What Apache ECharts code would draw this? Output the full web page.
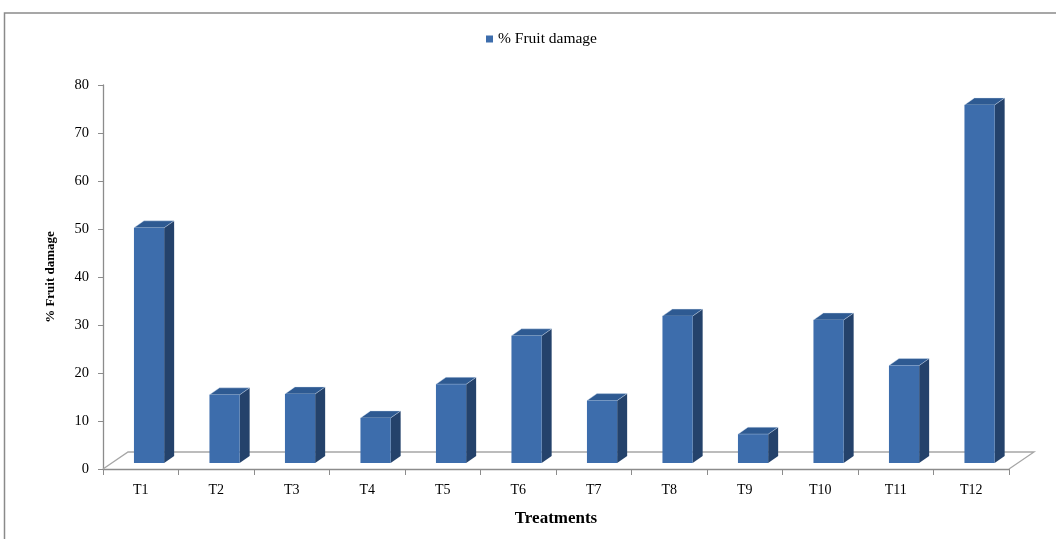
<!DOCTYPE html>
<html>
<head>
<meta charset="utf-8">
<script src="https://cdn.jsdelivr.net/npm/echarts@6/dist/echarts.min.js"></script>
<style>html,body{margin:0;padding:0;background:#fff}#c{width:1056px;height:539px}</style>
</head>
<body>
<div id="c"></div>
<script>
const categories = ['T1','T2','T3','T4','T5','T6','T7','T8','T9','T10','T11','T12'];
const fruitDamage = [49.0, 14.2, 14.4, 9.4, 16.4, 26.5, 13.0, 30.6, 6.0, 29.8, 20.3, 74.6];
const seriesName = '% Fruit damage';
const yMin = 0, yMax = 80, yInterval = 10;

const FRONT = '#3D6DAC', SIDE = '#24426B', TOP = '#2E5A92';
const chart = echarts.init(document.getElementById('c'));
const serif = 'Liberation Serif';

function renderFloor(params, api) {
  const cs = params.coordSys;
  const dx = 25, dy = -17;
  const x0 = cs.x, x1 = cs.x + cs.width, y0 = cs.y + cs.height;
  return {
    type: 'polyline',
    shape: { points: [[x0, y0], [x0 + dx, y0 + dy], [x1 + dx, y0 + dy], [x1, y0]] },
    style: { stroke: '#a6a6a6', lineWidth: 1.3, fill: null },
    silent: true
  };
}

function renderBar(params, api) {
  const i = api.value(0);
  const c0 = api.coord([i, 0]);
  const c1 = api.coord([i, api.value(1)]);
  const bw = api.size([1, 0])[0];
  const xl = c0[0] - bw / 2 + bw * 0.41;
  const xr = xl + bw * 0.40;
  const base = c0[1] - 6;
  const top = c1[1] - 6;
  const dx = 10, dy = -7;
  return {
    type: 'group',
    children: [
      { type: 'polygon', shape: { points: [[xr, top], [xr + dx, top + dy], [xr + dx, base + dy], [xr, base]] },
        style: { fill: SIDE } },
      { type: 'polygon', shape: { points: [[xl, top], [xl + dx, top + dy], [xr + dx, top + dy], [xr, top]] },
        style: { fill: TOP, stroke: 'rgba(220,230,245,0.7)', lineWidth: 0.6 } },
      { type: 'rect', shape: { x: xl, y: top, width: xr - xl, height: base - top },
        style: { fill: FRONT } }
    ]
  };
}

chart.setOption({
  animation: false,
  backgroundColor: '#fff',
  graphic: [{
    type: 'rect', shape: { x: 4.5, y: 13, width: 1100, height: 600 },
    style: { fill: null, stroke: '#8a8a8a', lineWidth: 1.5 }, silent: true, z: 0
  }],
  legend: {
    data: [seriesName], left: 481, top: 26,
    icon: 'rect', itemWidth: 7, itemHeight: 7, itemGap: 4,
    textStyle: { fontFamily: serif, fontSize: 15.5, color: '#000' }
  },
  grid: { left: 103, right: 47, top: 85, bottom: 70 },
  xAxis: {
    type: 'category', data: categories,
    name: 'Treatments', nameLocation: 'middle', nameGap: 41,
    nameTextStyle: { fontFamily: serif, fontSize: 17, fontWeight: 'bold', color: '#000' },
    axisLine: { lineStyle: { color: '#8c8c8c', width: 1.3 } },
    axisTick: { show: true, length: 6, lineStyle: { color: '#8c8c8c' } },
    axisLabel: { interval: 0, margin: 14, fontFamily: serif, fontSize: 14, color: '#000' },
    splitLine: { show: false }
  },
  yAxis: {
    type: 'value', min: yMin, max: yMax, interval: yInterval,
    name: '% Fruit damage', nameLocation: 'middle', nameGap: 46,
    nameTextStyle: { fontFamily: serif, fontSize: 13, fontWeight: 'bold', color: '#000' },
    axisLine: { show: true, lineStyle: { color: '#8c8c8c', width: 1.3 } },
    axisTick: { show: true, length: 5, lineStyle: { color: '#8c8c8c' } },
    axisLabel: { margin: 14, fontFamily: serif, fontSize: 14.5, color: '#000' },
    splitLine: { show: false }
  },
  series: [
    { type: 'custom', name: 'floor', renderItem: renderFloor, data: [[0, 0]], z: 1, silent: true },
    {
      type: 'custom', name: seriesName, renderItem: renderBar, z: 2,
      itemStyle: { color: FRONT },
      encode: { x: 0, y: 1 },
      data: fruitDamage.map((v, i) => [i, v])
    }
  ]
});
</script>
</body>
</html>
